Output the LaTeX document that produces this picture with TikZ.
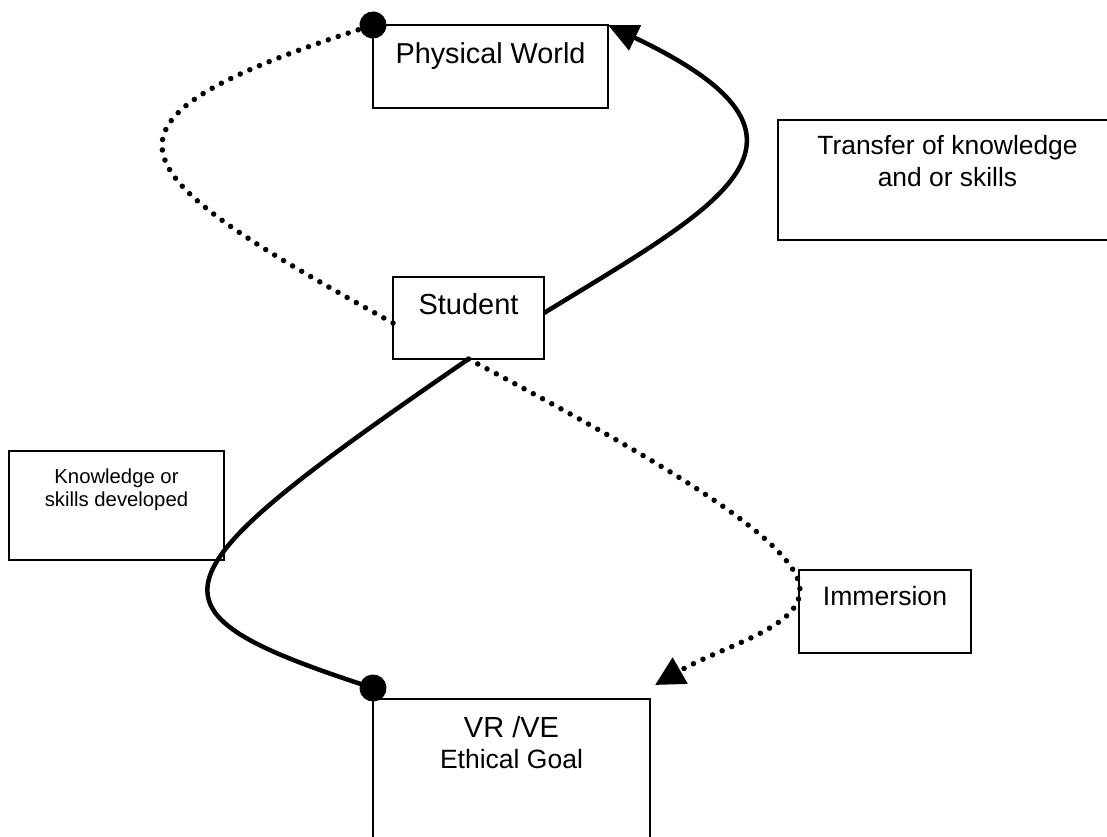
\documentclass[tikz,border=0pt]{standalone}
\usepackage{fontspec}
\setmainfont{Liberation Sans}
\usetikzlibrary{arrows.meta,calc}

\begin{document}
\begin{tikzpicture}[x=1pt, y=-1pt,
                    vr box/.style={rectangle, draw, line width=1.6pt, align=center, anchor=north west, inner xsep=0pt, inner ysep=0pt, outer sep=0pt},
                    vr link/.style={line width=4.5pt},
                    vr dots/.style={line width=5.5pt, line cap=round, dash pattern=on 0pt off 10.5pt}]

    \useasboundingbox (0,0) rectangle (1107,836);

    \node [vr box, minimum width=235pt, text height=38.5pt, text depth=44.5pt, font=\fontsize{28.8}{34}\selectfont] (phys) at (373,25) {Physical World};
    \node [vr box, minimum width=151pt, text height=37pt, text depth=45pt, font=\fontsize{29}{34}\selectfont] (student) at (393,277) {Student};
    \node [vr box, minimum width=339pt, text height=66pt, text depth=54pt, font=\fontsize{26.4}{31.5}\selectfont] (transfer) at (778,120) {Transfer of knowledge\\and or skills};
    \node [vr box, minimum width=215pt, text height=55.7pt, text depth=53.3pt, font=\fontsize{20.3}{23.4}\selectfont] (skills) at (9,451) {Knowledge or\\skills developed};
    \node [vr box, minimum width=172pt, text height=35pt, text depth=48pt, font=\fontsize{26.6}{31}\selectfont] (immersion) at (799,570) {Immersion};
    \node [vr box, minimum width=277pt, text height=69pt, text depth=120pt, font=\fontsize{26.5}{31}\selectfont] (goal) at (373,699) {{\fontsize{29}{31}\selectfont VR /VE}\\Ethical Goal};

    \draw [vr link, -{Triangle[length=30pt, width=27pt]}] ([yshift=5pt]student.east) .. controls (720,205) and (850,140) .. (phys.north east);
    \draw [vr link, -{Circle[length=27pt]}, shorten >=-13.5pt] (student.south) .. controls (150,578) and (133,609) .. ([yshift=11pt]goal.north west);
    \draw [vr dots, -{Circle[length=27pt]}, shorten >=-13.5pt] ([yshift=-5pt]student.west) .. controls (116,170) and (67,124) .. (phys.north west);
    \draw [vr dots, -{Triangle[length=29pt, width=29pt]}] (student.south) .. controls (640,450) and (800,540) .. (800,590) .. controls (800,628) and (725,645) .. ([shift={(5pt,14pt)}]goal.north east);

\end{tikzpicture}
\end{document}
